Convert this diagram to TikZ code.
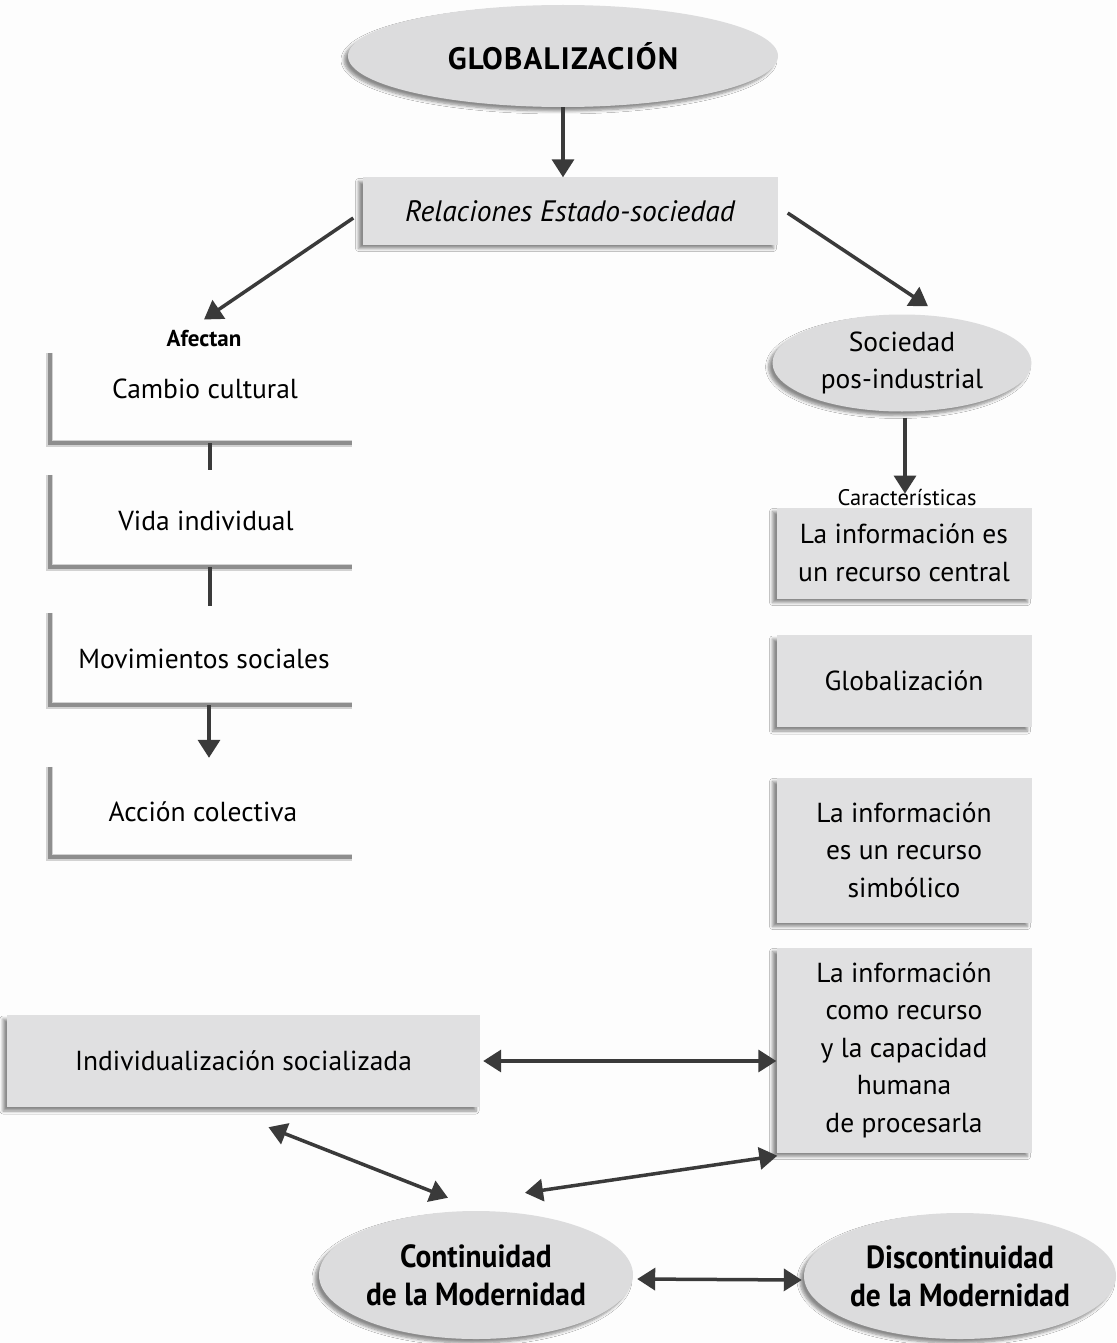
\documentclass[tikz,border=0pt]{standalone}
\usepackage{fontspec}
\setmainfont{PT Sans}
\newfontfamily\condfont[FakeStretch=0.92]{PT Sans}
\usetikzlibrary{arrows.meta,shapes.geometric,shadows.blur}

\definecolor{boxgray}{HTML}{E0E0E1}
\definecolor{ellgray}{HTML}{DCDCDD}
\definecolor{arrowgray}{HTML}{3A3A3A}
\definecolor{linegray}{HTML}{8E8E8E}
\definecolor{paper}{HTML}{FDFDFD}

\tikzset{
  softshadow/.style={blur shadow={shadow xshift=-4pt, shadow yshift=-4pt,
      shadow blur steps=6, shadow blur radius=3pt, shadow opacity=45}},
  bodyfont/.style={font=\fontsize{27.5}{37.5}\selectfont},
  infobox/.style={rectangle, fill=boxgray, softshadow, align=center,
      inner sep=0pt, bodyfont},
  oval/.style={ellipse, fill=ellgray, softshadow, align=center, inner sep=0pt,
      bodyfont},
  bracketbox/.style={rectangle, inner sep=0pt},
  txt/.style={align=center, inner sep=0pt, bodyfont},
  smalltxt/.style={inner sep=0pt, font=\fontsize{22.5}{26}\selectfont},
  brackethalo/.style={draw=linegray!40, line width=7pt},
  bracketline/.style={draw=linegray, line width=3.5pt},
  plainline/.style={draw=arrowgray, line width=3.5pt},
  arr/.style={plainline, -{Triangle[length=18pt,width=22pt]}},
  dbl/.style={plainline, {Triangle[length=18pt,width=22pt]}-{Triangle[length=18pt,width=22pt]}},
}

\begin{document}
\begin{tikzpicture}[x=1pt,y=-1pt]
  \fill[paper] (0,0) rectangle (1116,1343);
  \useasboundingbox (0,0) rectangle (1116,1343);

  % top of the chart
  \node[oval, minimum width=430pt, minimum height=102pt,
        font=\addfontfeature{LetterSpace=4}\bfseries\fontsize{31}{36}\selectfont] (glob) at (563,56) {GLOBALIZACIÓN};
  \node[infobox, minimum width=415pt, minimum height=67pt,
        font=\itshape\fontsize{29.5}{34}\selectfont] (rel) at (570,211) {Relaciones Estado-sociedad};

  \draw[arr] (glob.south) -- (glob.south |- rel.north);

  % left column: open brackets
  \node[smalltxt, font=\bfseries\fontsize{23}{26}\selectfont] (afe) at (204,339) {Afectan};

  \node[bracketbox, minimum width=302pt, minimum height=90pt] (b1) at (201,398) {};
  \node[bracketbox, minimum width=302pt, minimum height=92pt] (b2) at (201,521) {};
  \node[bracketbox, minimum width=302pt, minimum height=92pt] (b3) at (201,659) {};
  \node[bracketbox, minimum width=302pt, minimum height=90pt] (b4) at (201,812) {};

  \foreach \b in {b1,b2,b3,b4}{
    \draw[brackethalo] (\b.north west) -- (\b.south west) -- (\b.south east);
    \draw[bracketline] (\b.north west) -- (\b.south west) -- (\b.south east);
  }

  \node[txt] (t1) at ([xshift=4pt,yshift=9pt]b1.center) {Cambio cultural};
  \node[txt] (t2) at ([xshift=5pt]b2.center) {Vida individual};
  \node[txt] (t3) at ([xshift=3pt]b3.center) {Movimientos sociales};
  \node[txt] (t4) at ([xshift=2pt]b4.center) {Acción colectiva};

  \draw[plainline] ([xshift=9pt]b1.south) -- ([xshift=9pt,yshift=5pt]b2.north);
  \draw[plainline] ([xshift=9pt]b2.south) -- ([xshift=9pt,yshift=7pt]b3.north);
  \draw[arr] ([xshift=8pt]b3.south) -- ([xshift=8pt,yshift=9pt]b4.north);

  % right column
  \node[oval, minimum width=259pt, minimum height=97pt] (soc) at (902,363) {Sociedad\\pos-industrial};
  \node[smalltxt] (car) at (907,498) {Características};

  \node[infobox, minimum width=255pt, minimum height=91pt] (ra) at (904,553)
       {La información es\\un recurso central};
  \node[infobox, minimum width=255pt, minimum height=92pt] (rb) at (904,681)
       {Globalización};
  \node[infobox, minimum width=255pt, minimum height=145pt] (rc) at (904,850)
       {La información\\es un recurso\\simbólico};
  \node[infobox, minimum width=255pt, minimum height=205pt] (rd) at (904,1050)
       {La información\\como recurso\\y la capacidad\\humana\\de procesarla};

  \draw[arr] ([xshift=-9pt,yshift=-7pt]rel.west) -- ([yshift=11pt]afe.north);
  \draw[arr] ([xshift=10pt,yshift=-2pt]rel.east) -- ([xshift=26pt,yshift=8pt]soc.north);
  \draw[arr] ([xshift=3pt,yshift=-6pt]soc.south) -- ([xshift=-2pt,yshift=-4pt]car.north);

  % lower part
  \node[infobox, minimum width=473pt, minimum height=92pt] (ind) at (243.5,1061)
       {Individualización socializada};

  \node[oval, minimum width=314pt, minimum height=128pt,
        font=\condfont\bfseries\fontsize{32}{38}\selectfont] (cont) at (476,1275)
       {Continuidad\\de la Modernidad};
  \node[oval, minimum width=312pt, minimum height=126pt,
        font=\condfont\bfseries\fontsize{32}{38}\selectfont] (disc) at (960,1276)
       {Discontinuidad\\de la Modernidad};

  \draw[dbl] ([xshift=3pt]ind.east) -- (ind.east -| rd.west);
  \draw[dbl] ([xshift=25pt,yshift=-20pt]ind.south) -- ([xshift=-28pt,yshift=13pt]cont.north);
  \draw[dbl] ([xshift=1pt,yshift=-3pt]rd.south west) -- ([xshift=49pt,yshift=18pt]cont.north);
  \draw[dbl] ([xshift=4pt,yshift=-4pt]cont.east) -- ([xshift=-2pt,yshift=-4pt]disc.west);
\end{tikzpicture}
\end{document}
